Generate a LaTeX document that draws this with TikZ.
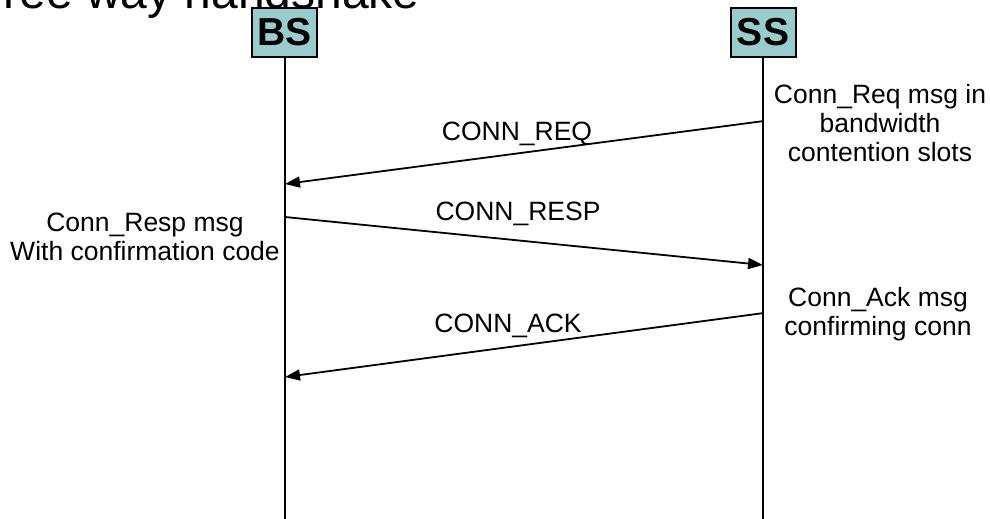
\documentclass[tikz,border=0pt]{standalone}
\usepackage{fontspec}
\setmainfont{Liberation Sans}
\usetikzlibrary{arrows.meta}
\definecolor{entityfill}{HTML}{99CCCC}
\tikzset{
  entity/.style={draw=black, line width=2pt, fill=entityfill, minimum width=65pt,
    minimum height=49pt, inner sep=0pt, font=\fontsize{39}{44}\selectfont\bfseries},
  lifeline/.style={line width=2pt},
  msg/.style={line width=1.8pt, -{Triangle[length=15pt,width=11pt]}},
  msglabel/.style={inner sep=0pt, anchor=base, font=\fontsize{26.5}{30}\selectfont},
  note/.style={inner sep=0pt, anchor=north, align=center, font=\fontsize{26.5}{29}\selectfont},
}
\begin{document}
\begin{tikzpicture}[x=1pt, y=-1pt]
  \useasboundingbox (0,0) rectangle (990,519);
  \clip (0,0) rectangle (990,519);

  % heading, partly above the page edge
  \node[inner sep=0pt, anchor=base east, font=\fontsize{48}{54}\selectfont] (title) at (420,9) {Three way handshake};

  % the two stations
  \node[entity] (bs) at (284.5,32.5) {BS};
  \node[entity] (ss) at (763,32.5) {SS};

  % lifelines
  \coordinate (bsend) at (284.5,519);
  \coordinate (ssend) at (763,519);
  \draw[lifeline] (bs.south) -- (bsend);
  \draw[lifeline] (ss.south) -- (ssend);

  % message end points on the lifelines
  \coordinate (ssReq)  at (764,121);
  \coordinate (bsReq)  at (285,184);
  \coordinate (bsResp) at (285,217);
  \coordinate (ssResp) at (763,265);
  \coordinate (ssAck)  at (764,313);
  \coordinate (bsAck)  at (285,377);

  % messages
  \draw[msg] (ssReq) -- (bsReq);
  \draw[msg] (bsResp) -- (ssResp);
  \draw[msg] (ssAck) -- (bsAck);

  \node[msglabel] (lreq)  at (517,140) {CONN\_REQ};
  \node[msglabel] (lresp) at (518,220) {CONN\_RESP};
  \node[msglabel] (lack)  at (508,332) {CONN\_ACK};

  % annotations beside the lifelines
  \node[note] (nreq)  at (880,84)  {Conn\_Req msg in\\bandwidth\\contention slots};
  \node[note] (nresp) at (145,213) {Conn\_Resp msg\\With confirmation code};
  \node[note] (nack)  at (878,287) {Conn\_Ack msg\\confirming conn};
\end{tikzpicture}
\end{document}
